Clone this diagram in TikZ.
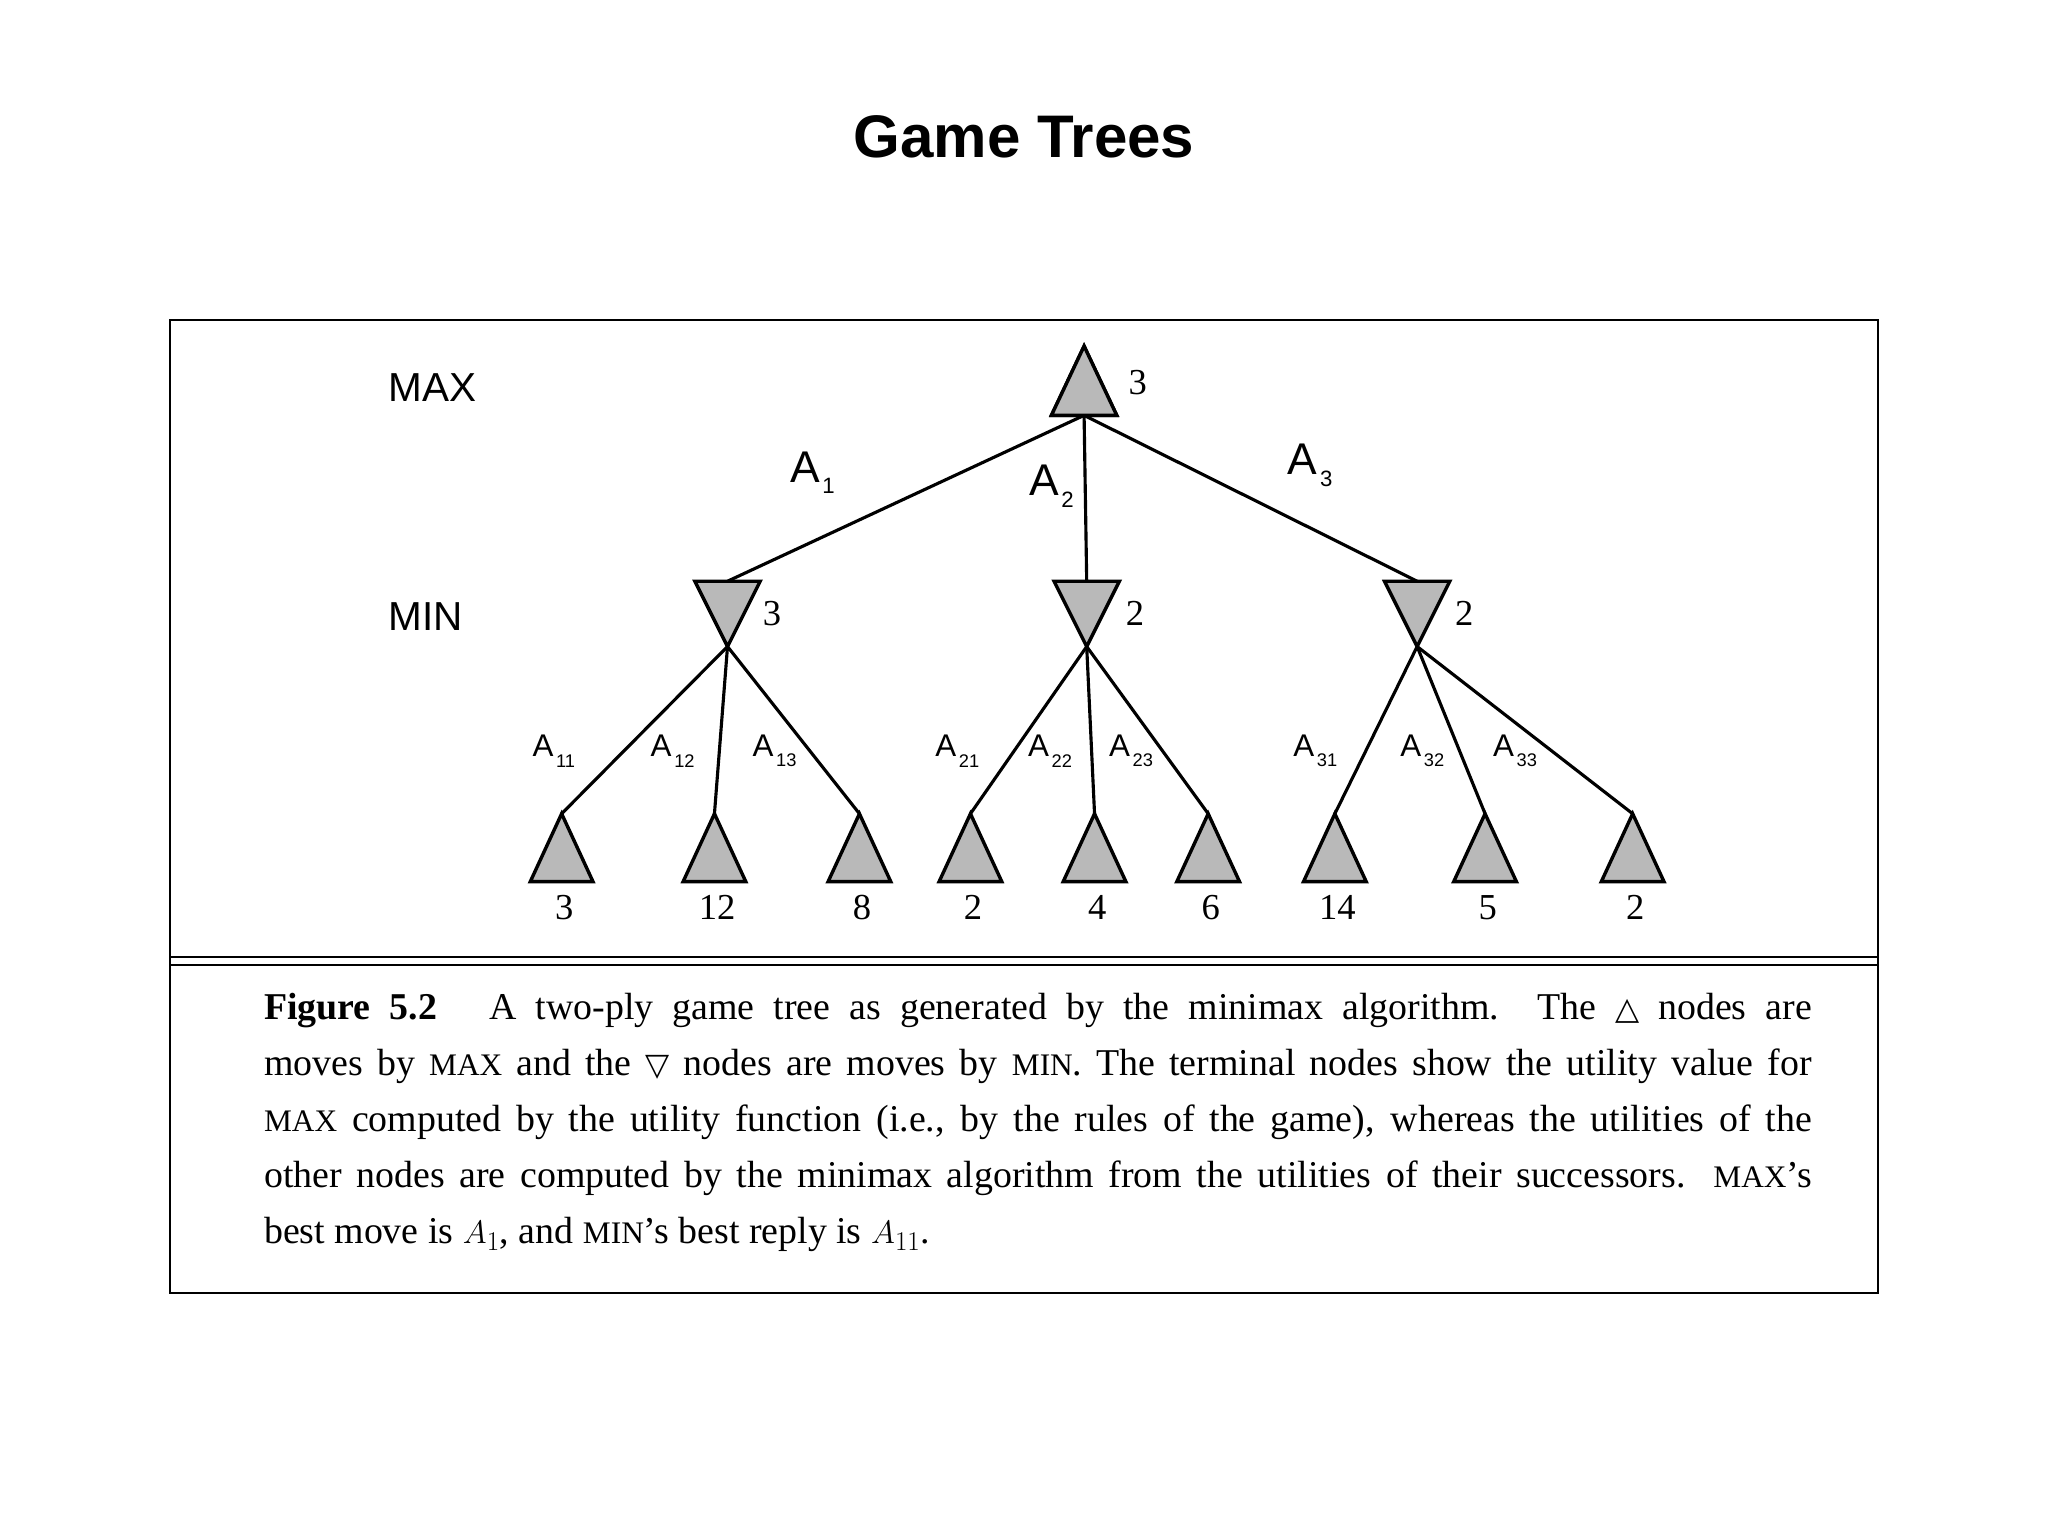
\documentclass[tikz,border=0pt]{standalone}
\usepackage{fontspec}
\setmainfont{Liberation Serif}
\newfontfamily\arialf{Liberation Sans}
\newfontfamily\dejavu{DejaVu Sans}
\newcommand{\smc}[1]{{\fontsize{24}{24}\selectfont #1}}
\newcommand{\alab}[1]{A\kern2pt\raisebox{-9pt}{\fontsize{17}{17}\selectfont #1}}
\newcommand{\blab}[1]{A\kern2pt\raisebox{-8pt}{\fontsize{14}{14}\selectfont #1}}
\begin{document}
\begin{tikzpicture}[x=1pt,y=-1pt,
  tri/.style={draw=black,line width=2.6pt,fill=gray!55,line join=miter},
  edge/.style={line width=2.4pt},
  val/.style={font=\fontsize{28}{28}\selectfont},
  lvl/.style={font=\arialf\fontsize{31}{31}\selectfont},
  bigA/.style={font=\arialf\fontsize{34}{34}\selectfont,inner sep=0pt},
  smA/.style={font=\arialf\fontsize{24}{24}\selectfont,inner sep=0pt}]
\useasboundingbox (0,0) rectangle (1568,1176);
\fill[white] (0,0) rectangle (1568,1176);
\node[font=\arialf\bfseries\fontsize{46}{46}\selectfont] (title) at (784,105) {Game Trees};
\draw[line width=1.6pt] (130,245) rectangle (1438,990);
\draw[line width=1.4pt] (130,733) -- (1438,733);
\draw[line width=1.4pt] (130,739) -- (1438,739);
\node[lvl] (max) at (331,297) {MAX};
\node[lvl] (min) at (326,472) {MIN};
% root
\coordinate (r) at (830,318);
\draw[tri] (830,265) -- (855,318) -- (805,318) -- cycle;
\node[val] (rv) at (871,293) {3};
% min nodes
\foreach \n/\x/\v/\lx in {m1/557/3/591, m2/832/2/869, m3/1085/2/1121}{
  \coordinate (\n t) at (\x,445);
  \coordinate (\n b) at (\x,495);
  \draw[edge] (r) -- (\n t);
  \draw[tri] (\x-25,445) -- (\x+25,445) -- (\x,495) -- cycle;
  \node[val] (\n v) at (\lx,470) {\v};
}
% leaves
\foreach \n/\x/\v/\p in {l1/430/3/m1, l2/547/12/m1, l3/658/8/m1, l4/743/2/m2, l5/838/4/m2, l6/925/6/m2, l7/1022/14/m3, l8/1137/5/m3, l9/1250/2/m3}{
  \coordinate (\n t) at (\x,623);
  \draw[edge] (\p b) -- (\n t);
  \draw[tri] (\x,623) -- (\x+24,675) -- (\x-24,675) -- cycle;
  \node[val] (\n v) at (\x+2,695) {\v};
}
\draw[tri] (830,265) -- (855,318) -- (805,318) -- cycle;
% labels
\node[bigA] (a1) at (622,362) {\alab{1}};
\node[bigA] (a2) at (805,372) {\alab{2}};
\node[bigA] (a3) at (1003,356) {\alab{3}};
\foreach \n/\x/\s in {b11/424/11, b12/515/12, b13/593/13, b21/733/21, b22/804/22, b23/866/23, b31/1007/31, b32/1089/32, b33/1160/33}{
  \node[smA] (\n) at (\x,575) {\blab{\s}};
}
\node[anchor=north west,text width=1185pt,align=justify,inner sep=0pt,
  font=\fontsize{29}{43}\selectfont] (cap) at (202,760) {%
\textbf{Figure 5.2}\hspace{40pt}A two-ply game tree as generated by the minimax algorithm.\ \ The {\dejavu\fontsize{24}{24}\selectfont △} nodes are\linebreak
moves by \smc{MAX} and the {\dejavu\fontsize{24}{24}\selectfont ▽} nodes are moves by \smc{MIN}. The terminal nodes show the utility value for\linebreak
\smc{MAX} computed by the utility function (i.e., by the rules of the game), whereas the utilities of the\linebreak
other nodes are computed by the minimax algorithm from the utilities of their successors. \smc{MAX}’s\linebreak
best move is $A_1$, and \smc{MIN}’s best reply is $A_{11}$.};
\end{tikzpicture}
\end{document}
